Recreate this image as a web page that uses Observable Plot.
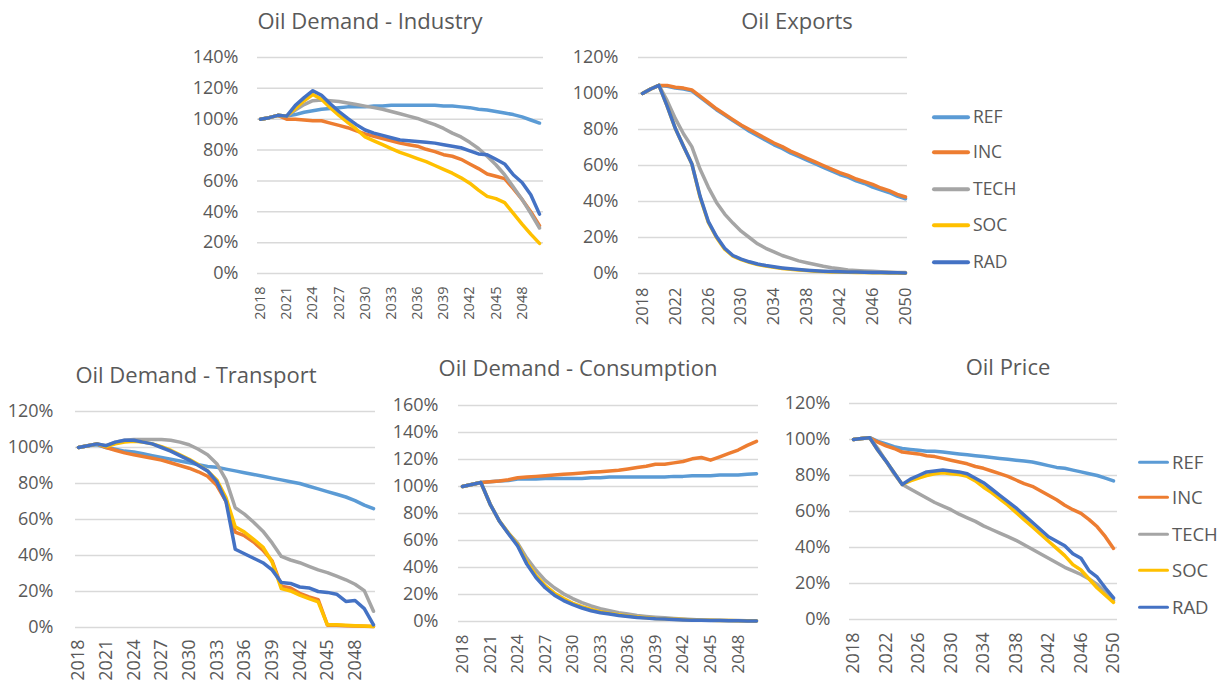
<!DOCTYPE html>
<html>
<head>
<meta charset="utf-8">
<script src="https://cdn.jsdelivr.net/npm/d3@7"></script>
<script src="https://cdn.jsdelivr.net/npm/@observablehq/plot@0.6"></script>
<style>
  body { margin: 0; background: #fff; font-family: "Open Sans", sans-serif; color: #595959; }
  #root { position: relative; width: 1220px; height: 687px; overflow: hidden; background: #fff; }
  .panel { position: absolute; }
  .panel svg { overflow: visible; }
  .title { position: absolute; transform: translate(-50%, -50%); white-space: nowrap; line-height: 1; color: #595959; }
  .li { position: absolute; display: flex; align-items: center; white-space: nowrap; transform: translateY(-50%); line-height: 1; color: #595959; }
  .sw { display: inline-block; height: 3.5px; border-radius: 2px; margin-right: 3px; }
</style>
</head>
<body>
<div id="root"></div>
<script>
// ---------- data ----------
const years = [2018,2019,2020,2021,2022,2023,2024,2025,2026,2027,2028,2029,2030,2031,2032,2033,2034,2035,2036,2037,2038,2039,2040,2041,2042,2043,2044,2045,2046,2047,2048,2049,2050];
const scenarios = ["REF","INC","TECH","SOC","RAD"];
const scenarioColors = ["#5B9BD5","#ED7D31","#A5A5A5","#FFC000","#4472C4"];

const titles = ["Oil Demand - Industry","Oil Exports","Oil Demand - Transport","Oil Demand - Consumption","Oil Price"];

const ticksEvery3 = [2018,2021,2024,2027,2030,2033,2036,2039,2042,2045,2048];
const ticksEvery4 = [2018,2022,2026,2030,2034,2038,2042,2046,2050];
const yTicks140 = [0,20,40,60,80,100,120,140];
const yTicks120 = [0,20,40,60,80,100,120];
const yTicks160 = [0,20,40,60,80,100,120,140,160];

// Oil Demand - Industry (% of 2018)
const industryREF  = [100,101,102.5,102,103,104.5,105.5,106.5,107,107.5,108,108,108,108.5,108.5,109,109,109,109,109,109,108.5,108.5,108,107.5,106.5,106,105,104,103,101.5,99.5,97.5];
const industryINC  = [100,101,102.5,100,100,99.5,99,99,97.5,96,94.5,92.5,90.5,89,87.5,86,84.5,83.5,82.5,80.5,79,77,76,74,71,68,64.5,63,61.5,55,48,40,31];
const industryTECH = [100,101,102.5,102,106,109.5,112,112.5,112,111.5,110.5,109.5,108.5,107.5,106.5,105,103.5,102,100.5,98.5,96.5,94,91,88.5,85,81,76,70.5,64,56,48,39,29.5];
const industrySOC  = [100,101,102.5,102,107,112,116,113,107.5,102.5,98,93.5,88.5,86,83.5,81,78.5,76.5,74.5,72.5,70,67.5,65,62,58.5,54,50,48.5,46,39,32,25.5,19.5];
const industryRAD  = [100,101,102.5,102,109,114,118.5,115.5,110,105,100.5,96.5,93,91,89.5,88,86.5,86,85.5,85,84.5,83.5,82.5,81.5,79.5,77.5,77,74,71,64,59,51,38.5];

// Oil Exports
const exportsREF  = [100,102.5,104.5,104,103,102.5,101.5,98,94.5,91,88,85,82,79,76.5,74,71.5,69.5,67,65,63,61,59,57,55,53.5,51.5,50,48,46.5,45,43,41.5];
const exportsINC  = [100,102.5,104.5,104.5,103.5,103,102,98.5,95,91.5,88.5,85.5,82.5,80,77.5,75,72.5,70.5,68,66,64,62,60,58,56,54.5,52.5,51,49.5,47.5,46,44,42.5];
const exportsTECH = [100,102.5,104.5,96,86,77.5,70.5,58,48,39.5,33,28,23.5,20,16.5,14,12,10,8.5,7,6,5,4,3.2,2.6,2,1.7,1.4,1.2,1,0.8,0.6,0.5];
const exportsSOC  = [100,102.5,104.5,93,80.5,70.5,61,42.5,28.5,20,13.5,9.7,7.7,6.2,5,4.1,3.4,2.8,2.3,1.9,1.6,1.3,1.1,0.9,0.8,0.7,0.6,0.5,0.4,0.4,0.3,0.3,0.2];
const exportsRAD  = [100,102.5,104.5,93,80.5,70.5,61,43,29,20.5,14,10,8,6.5,5.3,4.4,3.7,3.1,2.6,2.2,1.8,1.5,1.3,1.1,1,0.9,0.8,0.7,0.6,0.5,0.4,0.4,0.3];

// Oil Demand - Transport
const transportREF  = [100,101,101.5,100,99,98,97.5,96.5,95.5,94.5,93.5,92.5,91.5,90.5,89.5,89,88,87,86,85,84,83,82,81,80,78.5,77,75.5,74,72.5,70.5,68,66];
const transportINC  = [100,101,102,100,98.5,97,96,95,94,93,91.5,90,88.5,86.5,84,79,70,53,51,47.5,43,37,23,22,19,17,15.5,1.3,1.2,1,0.8,0.7,0.5];
const transportTECH = [100,101,102,101,103,104,104.5,104.5,104.5,104.5,104,103,101.5,99,96,91,82,66.5,63,58.5,53.5,47,39.5,37.5,36,34,32,30.5,28.5,26.5,24,20.5,9];
const transportSOC  = [100,101,102,100.5,102,103,103.5,103,102,100.5,98.5,96,93.5,90.5,87,82,72,56,53,49,44.7,36.4,21.6,20.3,18,16,14.2,1.5,1.5,1.3,1,0.8,0.6];
const transportRAD  = [100,101,102,101,103,104,104,103,102,100,98,95.5,93,90,87,81,70,43.5,41,38.5,36,32,25,24.5,22.5,22,20,19.5,18.5,14.5,15,10.5,1.5];

// Oil Demand - Consumption
const consumptionREF  = [100,101.5,103,103.5,104,104.5,105.5,105.5,105.5,106,106,106,106,106,106.5,106.5,107,107,107,107,107,107,107,107.5,107.5,108,108,108,108.5,108.5,108.5,109,109.5];
const consumptionINC  = [100,101.5,103,103.5,104,105,106.5,107,107.5,108,108.5,109,109.5,110,110.5,111,111.5,112,113,114,115,116.5,116.5,117.5,118.5,120.5,121.5,119.5,122,124.5,127,130.5,133.5];
const consumptionTECH = [100,101.5,103,87,74.5,65.5,58,47,38,30.5,25,20.5,17,14,11.5,9.5,8,6.5,5.5,4.5,3.8,3.2,2.7,2.2,1.8,1.5,1.2,1,0.9,0.8,0.7,0.6,0.5];
const consumptionSOC  = [100,101.5,103,87,74.5,65.5,57,44,34,26.5,21,17,13.5,11,9,7.3,6,5,4.1,3.4,2.8,2.3,2,1.7,1.4,1.1,1,0.9,0.8,0.7,0.6,0.5,0.4];
const consumptionRAD  = [100,101.5,103,87,74.5,65,56,42.5,32.5,25,19.5,15.5,12.5,10,8,6.5,5.5,4.5,3.7,3,2.5,2,1.8,1.5,1.2,1,0.9,0.8,0.7,0.6,0.5,0.4,0.3];

// Oil Price
const priceREF  = [100,100.5,101,99,97.5,96,95,94.5,94,93.5,93.5,93,92.5,92,91.5,91,90.5,90,89.5,89,88.5,88,87.5,86.5,85.5,84.5,84,83,82,81,80,78.5,77];
const priceINC  = [100,100.5,101,98.5,96.5,95,93,92.5,92,91,90.5,89.5,88.5,87.5,86.5,85,84,82.5,81,79.5,77.5,75.5,74,71.5,69,66.5,63.5,61,59,55.5,51.5,46,39.5];
const priceTECH = [100,100.5,101,95,88,81,75,72.5,70,67.5,65,63,61,58.5,56.5,54.5,52,50,48,46,44,41.5,39,36.5,34,31.5,29,27,25,22.5,19.5,15,10.5];
const priceSOC  = [100,100.5,101,94,88,81.5,75,77,78.5,80,81,81.5,81,80.5,79.5,77,73.5,70.5,67,63.5,59.5,55.5,51.5,47.5,43.5,39.5,35.5,30.5,27.5,22.5,17.5,13.5,9.5];
const priceRAD  = [100,100.5,101,94,88,81.5,75,78,80,82,82.5,83,82.5,82,81,78.5,76,72.5,69,65.5,62,58,54,50,46,43.5,41,36.5,34,27,23.5,17.5,12];

// ---------- layout ----------
const root = document.getElementById("root");

const panels = [
  {title: titles[0], tx: 370, ty: 20, left: 180, top: 40, width: 380, height: 300, mL: 77, mR: 17, mT: 17, mB: 67, inL: 3, inR: 4,
   yMax: 140, yTicks: yTicks140, xTicks: ticksEvery3, xFont: 14.5, xPad: 13, yPad: 19,
   series: [industryREF, industryINC, industryTECH, industrySOC, industryRAD]},
  {title: titles[1], tx: 797, ty: 20, left: 560, top: 40, width: 370, height: 300, mL: 78, mR: 23, mT: 17, mB: 67, inL: 4, inR: 2,
   yMax: 120, yTicks: yTicks120, xTicks: ticksEvery4, xFont: 16.5, xPad: 14, yPad: 20,
   series: [exportsREF, exportsINC, exportsTECH, exportsSOC, exportsRAD]},
  {title: titles[2], tx: 196, ty: 374, left: 0, top: 390, width: 400, height: 297, mL: 75, mR: 25, mT: 21, mB: 60, inL: 3, inR: 2,
   yMax: 120, yTicks: yTicks120, xTicks: ticksEvery3, xFont: 18, xPad: 12, yPad: 22,
   series: [transportREF, transportINC, transportTECH, transportSOC, transportRAD]},
  {title: titles[3], tx: 578, ty: 367, left: 390, top: 385, width: 390, height: 302, mL: 68, mR: 22, mT: 20, mB: 66, inL: 4, inR: 2,
   yMax: 160, yTicks: yTicks160, xTicks: ticksEvery3, xFont: 17, xPad: 13, yPad: 20,
   series: [consumptionREF, consumptionINC, consumptionTECH, consumptionSOC, consumptionRAD]},
  {title: titles[4], tx: 1008, ty: 366, left: 780, top: 385, width: 360, height: 302, mL: 69, mR: 23, mT: 18, mB: 68, inL: 4, inR: 4,
   yMax: 120, yTicks: yTicks120, xTicks: ticksEvery4, xFont: 18, xPad: 13, yPad: 19,
   series: [priceREF, priceINC, priceTECH, priceSOC, priceRAD]}
];

panels.forEach(p => {
  const rows = [];
  scenarios.forEach((s, i) => p.series[i].forEach((v, j) => rows.push({year: years[j], value: v, scenario: s})));

  const chart = Plot.plot({
    width: p.width, height: p.height,
    marginLeft: p.mL, marginRight: p.mR, marginTop: p.mT, marginBottom: p.mB,
    style: {fontFamily: "'Open Sans', sans-serif", color: "#595959", background: "transparent"},
    x: {domain: [2018, 2050], insetLeft: p.inL, insetRight: p.inR},
    y: {domain: [0, p.yMax]},
    color: {domain: scenarios, range: scenarioColors},
    marks: [
      Plot.ruleY(p.yTicks, {stroke: "#D9D9D9", strokeWidth: 1.5}),
      Plot.axisY({ticks: p.yTicks, tickFormat: d => d + "%", tickSize: 0, tickPadding: p.yPad, fontSize: 18, label: null, fill: "#595959"}),
      Plot.axisX({ticks: p.xTicks, tickFormat: d => String(d), tickSize: 0, tickPadding: p.xPad, tickRotate: -90, fontSize: p.xFont, label: null, fill: "#595959"}),
      Plot.line(rows, {x: "year", y: "value", z: "scenario", stroke: "scenario", strokeWidth: 3.5, strokeLinejoin: "round", strokeLinecap: "round"})
    ]
  });
  const div = document.createElement("div");
  div.className = "panel";
  div.style.left = p.left + "px";
  div.style.top = p.top + "px";
  div.appendChild(chart);
  root.appendChild(div);

  const t = document.createElement("div");
  t.className = "title";
  t.style.left = p.tx + "px";
  t.style.top = p.ty + "px";
  t.style.fontSize = "22px";
  t.textContent = p.title;
  root.appendChild(t);
});

// ---------- legends ----------
const legends = [
  {x: 932, ys: [117, 152, 189, 225, 262], sw: 38, font: 17.5},
  {x: 1138, ys: [462, 497, 534, 570, 607], sw: 31, font: 18.5}
];
legends.forEach(L => {
  scenarios.forEach((s, i) => {
    const item = document.createElement("div");
    item.className = "li";
    item.style.left = L.x + "px";
    item.style.top = L.ys[i] + "px";
    item.style.fontSize = L.font + "px";
    const sw = document.createElement("span");
    sw.className = "sw";
    sw.style.width = L.sw + "px";
    sw.style.background = scenarioColors[i];
    const tx = document.createElement("span");
    tx.textContent = s;
    item.appendChild(sw);
    item.appendChild(tx);
    root.appendChild(item);
  });
});
</script>
</body>
</html>
